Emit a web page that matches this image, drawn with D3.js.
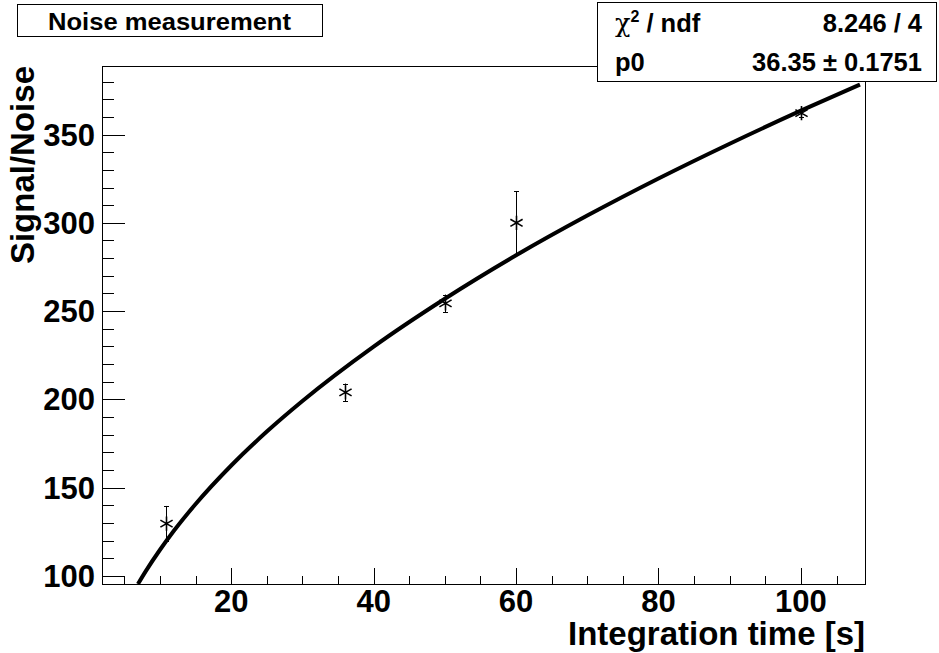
<!DOCTYPE html>
<meta charset="utf-8">
<head>
	<script src="https://d3js.org/d3.v7.min.js"></script>
</head>
<style>
	body {
		margin: 0;
		background: #fff;
	}
	text {
		font-family: "Liberation Sans", Arial, Helvetica, sans-serif;
		font-weight: bold;
		fill: #000;
	}
	.frame {
		fill: none;
		stroke: #000;
		stroke-width: 1px;
		shape-rendering: crispEdges;
	}
	.fit {
		fill: none;
		stroke: #000;
		stroke-width: 4px;
	}
	.err {
		stroke: #000;
		stroke-width: 1px;
	}
	.marker {
		fill: none;
		stroke: #000;
		stroke-width: 1.6px;
	}
	.box {
		fill: #fff;
		stroke: #000;
		stroke-width: 1px;
		shape-rendering: crispEdges;
	}
</style>
<body>
<svg id="chart" width="939" height="653"></svg>
<script>
	// measured points (integration time, S/N, error)
	var timeValues = [10.8, 36, 50, 60, 100];
	var snValues = [129.7, 204, 254.4, 300, 362.1];
	var snErrors = [10, 5, 5, 18, 2];

	// fitted curve
	var fitTime = [6.9, 8, 10, 12, 15, 20, 25, 30, 40, 50, 60, 70, 80, 90, 100, 108.3];
	var fitSN = [95.5, 102.8, 114.9, 125.9, 140.8, 162.6, 181.8, 199.1, 229.9, 257.0, 281.6, 304.1, 325.1, 344.8, 363.5, 378.3];

	var xTickLabels = [20, 40, 60, 80, 100];
	var yTickLabels = [100, 150, 200, 250, 300, 350];

	var titleText = "Noise measurement";
	var statsRows = [["\u03c7", "8.246 / 4"], ["p0", "36.35 \u00b1 0.1751"]];

	var svg = d3.select("#chart");

	// frame edges (window.top is reserved, so use other names)
	var frameL = 102, frameR = 865, frameT = 66, frameB = 584;

	var x = d3.scaleLinear()
		.domain([1.85, 109])
		.range([frameL, frameR]);
	var y = d3.scaleLinear()
		.domain([95.5, 388.8])
		.range([frameB, frameT]);

	// x axis: major every 20, minor every 5
	var xMinor = d3.range(5, 109, 5).filter(function(d) { return xTickLabels.indexOf(d) < 0; });
	var xAxis = svg.append("g").attr("class", "x axis")
		.attr("shape-rendering", "crispEdges");
	xAxis.selectAll(".minor")
		.data(xMinor)
		.enter().append("line")
		.attr("stroke", "#000")
		.attr("x1", function(d) { return Math.round(x(d)) + 0.5; })
		.attr("x2", function(d) { return Math.round(x(d)) + 0.5; })
		.attr("y1", frameB)
		.attr("y2", frameB - 8);
	xAxis.selectAll(".major")
		.data(xTickLabels)
		.enter().append("line")
		.attr("stroke", "#000")
		.attr("x1", function(d) { return Math.round(x(d)) + 0.5; })
		.attr("x2", function(d) { return Math.round(x(d)) + 0.5; })
		.attr("y1", frameB)
		.attr("y2", frameB - 16);
	xAxis.selectAll("text")
		.data(xTickLabels)
		.enter().append("text")
		.attr("x", function(d) { return x(d); })
		.attr("y", 612)
		.attr("text-anchor", "middle")
		.style("font-size", "31px")
		.text(function(d) { return d; });

	// y axis: major every 50, minor every 10
	var yMinor = d3.range(100, 389, 10).filter(function(d) { return yTickLabels.indexOf(d) < 0; });
	var yAxis = svg.append("g").attr("class", "y axis")
		.attr("shape-rendering", "crispEdges");
	yAxis.selectAll(".minor")
		.data(yMinor)
		.enter().append("line")
		.attr("stroke", "#000")
		.attr("x1", frameL)
		.attr("x2", frameL + 12)
		.attr("y1", function(d) { return Math.round(y(d)) + 0.5; })
		.attr("y2", function(d) { return Math.round(y(d)) + 0.5; });
	yAxis.selectAll(".major")
		.data(yTickLabels)
		.enter().append("line")
		.attr("stroke", "#000")
		.attr("x1", frameL)
		.attr("x2", frameL + 23)
		.attr("y1", function(d) { return Math.round(y(d)) + 0.5; })
		.attr("y2", function(d) { return Math.round(y(d)) + 0.5; });
	yAxis.selectAll("text")
		.data(yTickLabels)
		.enter().append("text")
		.attr("x", 95)
		.attr("y", function(d) { return y(d) + 11; })
		.attr("text-anchor", "end")
		.style("font-size", "31px")
		.text(function(d) { return d; });

	// frame
	svg.append("rect")
		.attr("class", "frame")
		.attr("x", frameL + 0.5)
		.attr("y", frameT + 0.5)
		.attr("width", frameR - frameL)
		.attr("height", frameB - frameT);

	// axis titles
	svg.append("text")
		.attr("x", frameR)
		.attr("y", 645)
		.attr("text-anchor", "end")
		.style("font-size", "33px")
		.text("Integration time [s]");
	svg.append("text")
		.attr("transform", "translate(34," + frameT + ") rotate(-90)")
		.attr("text-anchor", "end")
		.style("font-size", "33px")
		.text("Signal/Noise");

	// clip to frame
	svg.append("clipPath")
		.attr("id", "clip")
		.append("rect")
		.attr("x", frameL)
		.attr("y", frameT)
		.attr("width", frameR - frameL)
		.attr("height", frameB - frameT);

	var plot = svg.append("g").attr("clip-path", "url(#clip)");

	// fit curve
	var fitLine = d3.line()
		.curve(d3.curveMonotoneX)
		.x(function(d, i) { return x(fitTime[i]); })
		.y(function(d) { return y(d); });
	plot.append("path")
		.attr("class", "fit")
		.attr("d", fitLine(fitSN));

	// error bars
	var points = timeValues.map(function(t, i) {
		return { t: t, v: snValues[i], e: snErrors[i] };
	});
	var errs = plot.selectAll(".errbar")
		.data(points)
		.enter().append("g");
	errs.append("line")
		.attr("class", "err")
		.attr("x1", function(d) { return Math.round(x(d.t)) + 0.5; })
		.attr("x2", function(d) { return Math.round(x(d.t)) + 0.5; })
		.attr("y1", function(d) { return y(d.v + d.e); })
		.attr("y2", function(d) { return y(d.v - d.e); });
	errs.selectAll(".cap")
		.data(function(d) { return [d.v + d.e, d.v - d.e].map(function(v) { return { t: d.t, v: v }; }); })
		.enter().append("line")
		.attr("class", "err")
		.attr("x1", function(d) { return Math.round(x(d.t)) - 2; })
		.attr("x2", function(d) { return Math.round(x(d.t)) + 3; })
		.attr("y1", function(d) { return Math.round(y(d.v)) + 0.5; })
		.attr("y2", function(d) { return Math.round(y(d.v)) + 0.5; });

	// markers
	var star = d3.symbol().type(d3.symbolAsterisk).size(140);
	plot.selectAll(".marker")
		.data(points)
		.enter().append("path")
		.attr("class", "marker")
		.attr("transform", function(d) { return "translate(" + (Math.round(x(d.t)) + 0.5) + "," + y(d.v) + ")"; })
		.attr("d", star);

	// title box
	svg.append("rect")
		.attr("class", "box")
		.attr("x", 17.5)
		.attr("y", 4.5)
		.attr("width", 305)
		.attr("height", 32);
	svg.append("text")
		.attr("x", 169.5)
		.attr("y", 29.5)
		.attr("text-anchor", "middle")
		.attr("textLength", 243)
		.attr("lengthAdjust", "spacingAndGlyphs")
		.style("font-size", "24px")
		.text(titleText);

	// stats box
	svg.append("rect")
		.attr("class", "box")
		.attr("x", 597.5)
		.attr("y", 2.5)
		.attr("width", 339)
		.attr("height", 79);

	var row1 = svg.append("text")
		.attr("x", 615)
		.attr("y", 31.5)
		.style("font-size", "25.5px");
	row1.append("tspan")
		.style("font-family", "'DejaVu Serif', serif")
		.style("font-weight", "normal")
		.text(statsRows[0][0]);
	row1.append("tspan")
		.attr("dy", -10)
		.style("font-size", "16px")
		.text("2");
	row1.append("tspan")
		.attr("dy", 10)
		.text(" / ndf");
	svg.append("text")
		.attr("x", 922)
		.attr("y", 31.5)
		.attr("text-anchor", "end")
		.style("font-size", "25.5px")
		.text(statsRows[0][1]);

	svg.append("text")
		.attr("x", 615)
		.attr("y", 70.5)
		.style("font-size", "25.5px")
		.text(statsRows[1][0]);
	svg.append("text")
		.attr("x", 922)
		.attr("y", 70.5)
		.attr("text-anchor", "end")
		.style("font-size", "25.5px")
		.text(statsRows[1][1]);
</script>
</body>
